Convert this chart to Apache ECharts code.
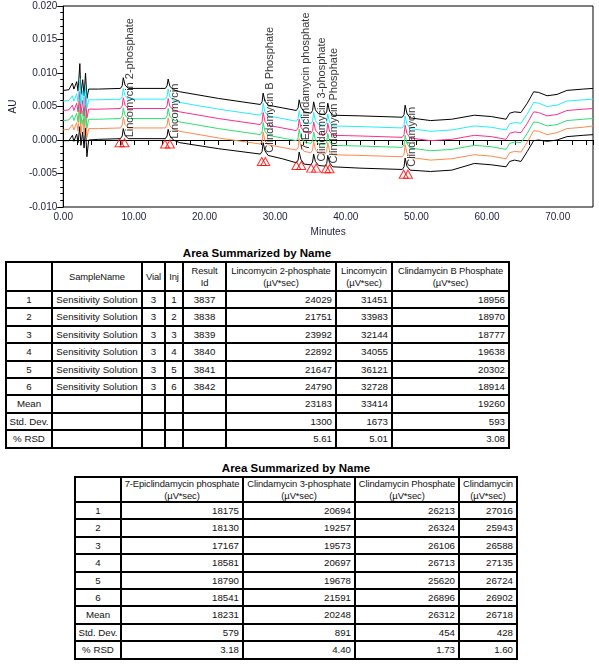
<!DOCTYPE html>
<html><head><meta charset="utf-8">
<script src="https://cdn.jsdelivr.net/npm/echarts@6/dist/echarts.min.js"></script>
<style>
html,body{margin:0;padding:0;background:#fff;}
#page{position:relative;width:599px;height:665px;overflow:hidden;font-family:'Liberation Sans',Arial,sans-serif;}
#chart{position:absolute;left:0;top:0;width:599px;height:245px;}
.cell{position:absolute;box-sizing:border-box;border:1px solid #000;display:flex;align-items:center;padding:0 3px;font-size:9.7px;line-height:12px;color:#111;white-space:pre;overflow:hidden;}
.cell.hd{padding:0;font-size:9.4px;letter-spacing:-0.1px;}
.frame{position:absolute;box-sizing:border-box;border:1px solid #000;}
.title{position:absolute;width:300px;text-align:center;font-weight:bold;font-size:11.5px;color:#000;}
</style></head>
<body><div id="page"><div id="chart"></div></div>
<script>
// ---------- chromatogram data (minutes, AU) ----------
const timeMin = [0, 0.8, 1.3, 1.5, 1.9, 2.1, 2.35, 2.5, 2.75, 2.95, 3.15, 3.35, 3.6, 5, 8.1, 8.35, 8.5, 8.75, 9.2, 12, 14.45, 14.7, 14.85, 15.1, 15.6, 16.5, 22, 27.9, 28.15, 28.3, 28.55, 29.0, 31, 33.0, 33.25, 33.4, 33.65, 34.1, 35.05, 35.3, 35.45, 35.7, 36.15, 37.05, 37.3, 37.45, 37.7, 38.15, 42, 48.0, 48.25, 48.4, 48.65, 49.1, 52, 55, 58.2, 60.6, 62.7, 63.2, 63.9, 64.8, 65.7, 66.6, 67.3, 68.5, 69.9, 71.3, 73.6, 75];

const traceTopBlack = [0.0074, 0.0075, 0.0085, 0.0076, 0.0087, 0.0073, 0.0114, 0.0068, 0.0090, 0.0066, 0.0100, 0.0062, 0.0076, 0.0076, 0.0077, 0.0081, 0.0093, 0.0082, 0.0077, 0.0077, 0.0077, 0.0081, 0.0091, 0.0080, 0.0075, 0.0072, 0.0062, 0.0053, 0.0057, 0.0070, 0.0058, 0.0052, 0.0048, 0.0044, 0.0048, 0.0060, 0.0049, 0.0042, 0.0040, 0.0044, 0.0057, 0.0045, 0.0039, 0.0038, 0.0042, 0.0055, 0.0043, 0.0037, 0.0036, 0.0034, 0.0038, 0.0052, 0.0040, 0.0033, 0.0029, 0.0031, 0.0037, 0.0035, 0.0031, 0.0040, 0.0042, 0.0041, 0.0055, 0.0072, 0.0071, 0.0066, 0.0068, 0.0074, 0.0076, 0.0077];

const traceCyan = [0.0058, 0.0059, 0.0066, 0.0058, 0.0069, 0.0057, 0.0092, 0.0054, 0.0074, 0.0050, 0.0081, 0.0048, 0.0060, 0.0060, 0.0061, 0.0065, 0.0077, 0.0066, 0.0061, 0.0061, 0.0061, 0.0065, 0.0076, 0.0064, 0.0059, 0.0056, 0.0046, 0.0037, 0.0041, 0.0055, 0.0042, 0.0036, 0.0032, 0.0028, 0.0032, 0.0044, 0.0033, 0.0026, 0.0024, 0.0028, 0.0041, 0.0029, 0.0023, 0.0022, 0.0026, 0.0039, 0.0027, 0.0021, 0.0020, 0.0018, 0.0022, 0.0036, 0.0024, 0.0017, 0.0013, 0.0015, 0.0021, 0.0019, 0.0015, 0.0024, 0.0026, 0.0025, 0.0039, 0.0056, 0.0055, 0.0050, 0.0052, 0.0058, 0.0060, 0.0061];

const traceMagenta = [0.0044, 0.0045, 0.0052, 0.0044, 0.0055, 0.0042, 0.0072, 0.0039, 0.0059, 0.0036, 0.0066, 0.0033, 0.0046, 0.0046, 0.0047, 0.0051, 0.0063, 0.0052, 0.0047, 0.0047, 0.0047, 0.0051, 0.0062, 0.0050, 0.0045, 0.0042, 0.0032, 0.0023, 0.0027, 0.0041, 0.0028, 0.0022, 0.0018, 0.0014, 0.0018, 0.0031, 0.0019, 0.0012, 0.0010, 0.0014, 0.0027, 0.0015, 0.0009, 0.0008, 0.0012, 0.0025, 0.0013, 0.0007, 0.0006, 0.0004, 0.0008, 0.0022, 0.0010, 0.0003, -0.0001, 0.0001, 0.0007, 0.0005, 0.0001, 0.0010, 0.0012, 0.0011, 0.0025, 0.0042, 0.0041, 0.0036, 0.0038, 0.0044, 0.0046, 0.0047];

const traceGreen = [0.0029, 0.0030, 0.0037, 0.0029, 0.0040, 0.0027, 0.0058, 0.0024, 0.0044, 0.0021, 0.0052, 0.0018, 0.0031, 0.0031, 0.0032, 0.0036, 0.0048, 0.0037, 0.0032, 0.0032, 0.0032, 0.0036, 0.0047, 0.0035, 0.0030, 0.0027, 0.0017, 0.0008, 0.0012, 0.0026, 0.0013, 0.0007, 0.0003, -0.0001, 0.0003, 0.0016, 0.0004, -0.0003, -0.0005, -0.0001, 0.0012, 0.0000, -0.0006, -0.0007, -0.0003, 0.0010, -0.0002, -0.0008, -0.0009, -0.0011, -0.0007, 0.0007, -0.0005, -0.0012, -0.0016, -0.0014, -0.0008, -0.0010, -0.0014, -0.0005, -0.0003, -0.0004, 0.0010, 0.0027, 0.0026, 0.0021, 0.0023, 0.0029, 0.0031, 0.0032];

const traceOrange = [0.0015, 0.0016, 0.0023, 0.0015, 0.0026, 0.0013, 0.0045, 0.0010, 0.0030, 0.0007, 0.0037, 0.0004, 0.0017, 0.0017, 0.0018, 0.0022, 0.0034, 0.0023, 0.0018, 0.0018, 0.0018, 0.0022, 0.0033, 0.0021, 0.0016, 0.0013, 0.0003, -0.0006, -0.0002, 0.0012, -0.0001, -0.0007, -0.0011, -0.0015, -0.0011, 0.0002, -0.0010, -0.0017, -0.0019, -0.0015, -0.0002, -0.0014, -0.0020, -0.0021, -0.0017, -0.0004, -0.0016, -0.0022, -0.0023, -0.0025, -0.0021, -0.0007, -0.0019, -0.0026, -0.0030, -0.0028, -0.0022, -0.0024, -0.0028, -0.0019, -0.0017, -0.0018, -0.0003, 0.0014, 0.0013, 0.0008, 0.0011, 0.0017, 0.0019, 0.0021];

const traceBottomBlack = [-0.0001, -0.0001, 0.0007, -0.0002, 0.0009, -0.0004, 0.0020, -0.0008, 0.0012, -0.0012, 0.0018, -0.0025, 0.0000, 0.0001, 0.0002, 0.0006, 0.0017, 0.0007, 0.0002, 0.0002, 0.0002, 0.0006, 0.0016, 0.0006, 0.0000, -0.0004, -0.0013, -0.0021, -0.0017, -0.0004, -0.0016, -0.0023, -0.0028, -0.0034, -0.0030, -0.0018, -0.0029, -0.0036, -0.0037, -0.0033, -0.0021, -0.0032, -0.0038, -0.0039, -0.0035, -0.0023, -0.0034, -0.0040, -0.0042, -0.0044, -0.0040, -0.0027, -0.0039, -0.0045, -0.0047, -0.0045, -0.0035, -0.0037, -0.0040, -0.0032, -0.0030, -0.0032, -0.0017, -0.0001, 0.0000, -0.0002, 0.0000, 0.0005, 0.0007, 0.0008];

const peakNames = ['Lincomycin 2-phosphate', 'Lincomycin', 'Clindamycin B Phosphate', '7-Epiclindamycin phosphate', 'Clindamycin 3-phosphate', 'Clindamycin Phosphate', 'Clindamycin'];
const peakLabelTime = [9.4, 15.8, 29.2, 34.3, 36.6, 38.3, 49.4];
const peakLabelAU = [0.0004, 0.0002, -0.0019, -0.0015, -0.0032, -0.0035, -0.0040];

const markerTime = [7.97, 8.67, 14.4, 15.1, 28.1, 28.6, 33.0, 33.7, 35.1, 35.8, 37.2, 37.7, 48.2, 48.8];
const markerAU = [-0.0004, -0.0004, -0.0006, -0.0006, -0.0032, -0.0032, -0.0038, -0.0038, -0.0042, -0.0042, -0.0043, -0.0043, -0.0051, -0.0051];

// ---------- table data ----------
const sampleNo = ['1', '2', '3', '4', '5', '6'];
const sampleName = ['Sensitivity Solution', 'Sensitivity Solution', 'Sensitivity Solution', 'Sensitivity Solution', 'Sensitivity Solution', 'Sensitivity Solution'];
const vial = ['3', '3', '3', '3', '3', '3'];
const inj = ['1', '2', '3', '4', '5', '6'];
const resultId = ['3837', '3838', '3839', '3840', '3841', '3842'];
const statNames = ['Mean', 'Std. Dev.', '% RSD'];

const areaLinco2P = ['24029', '21751', '23992', '22892', '21647', '24790'];
const statsLinco2P = ['23183', '1300', '5.61'];
const areaLinco = ['31451', '33983', '32144', '34055', '36121', '32728'];
const statsLinco = ['33414', '1673', '5.01'];
const areaClindaB = ['18956', '18970', '18777', '19638', '20302', '18914'];
const statsClindaB = ['19260', '593', '3.08'];

const areaEpi = ['18175', '18130', '17167', '18581', '18790', '18541'];
const statsEpi = ['18231', '579', '3.18'];
const areaClinda3P = ['20694', '19257', '19573', '20697', '19678', '21591'];
const statsClinda3P = ['20248', '891', '4.40'];
const areaClindaP = ['26213', '26324', '26106', '26713', '25620', '26896'];
const statsClindaP = ['26312', '454', '1.73'];
const areaClinda = ['27016', '25943', '26588', '27135', '26724', '26902'];
const statsClinda = ['26718', '428', '1.60'];

const tableTitle = 'Area Summarized by Name';
const header1 = ['', 'SampleName', 'Vial', 'Inj', 'Result\nId', 'Lincomycin 2-phosphate\n(µV*sec)', 'Lincomycin\n(µV*sec)', 'Clindamycin B Phosphate\n(µV*sec)'];
const header2 = ['', '7-Epiclindamycin phosphate\n(µV*sec)', 'Clindamycin 3-phosphate\n(µV*sec)', 'Clindamycin Phosphate\n(µV*sec)', 'Clindamycin\n(µV*sec)'];

// ---------- chart ----------
const FONT = "'Liberation Sans', Arial, sans-serif";
const AXC = '#1c1c3c';
const toPairs = vals => timeMin.map((t, i) => [t, vals[i]]);
const traces = [
  { d: traceTopBlack, c: '#000000' },
  { d: traceBottomBlack, c: '#000000' },
  { d: traceOrange, c: '#ff8a4c' },
  { d: traceGreen, c: '#2ee06e' },
  { d: traceMagenta, c: '#ff2d8a' },
  { d: traceCyan, c: '#22eeff' }
];
const series = traces.map(tr => ({
  type: 'line', data: toPairs(tr.d), showSymbol: false, symbol: 'none', smooth: false,
  lineStyle: { width: 1, color: tr.c }, itemStyle: { color: tr.c }, silent: true, z: 2
}));
series.push({
  type: 'scatter', z: 5, silent: true,
  data: markerTime.map((t, i) => [t, markerAU[i]]),
  symbol: 'triangle', symbolSize: [9, 8],
  itemStyle: { color: 'rgba(0,0,0,0)', borderColor: '#ff0000', borderWidth: 1 }
});
series.push({
  type: 'scatter', z: 6, silent: true,
  data: peakNames.map((n, i) => ({ name: n, value: [peakLabelTime[i], peakLabelAU[i]] })),
  symbol: 'circle', symbolSize: 1, itemStyle: { color: 'rgba(0,0,0,0)' },
  label: { show: true, formatter: '{b}', position: 'inside', rotate: 90, align: 'left', verticalAlign: 'middle',
           color: '#000', fontSize: 11, fontFamily: FONT }
});

const chart = echarts.init(document.getElementById('chart'), null, { renderer: 'canvas' });
chart.setOption({
  animation: false,
  backgroundColor: '#fff',
  grid: { left: 57, top: 6, width: 536, height: 201, show: true, borderColor: '#000', borderWidth: 1, backgroundColor: 'transparent' },
  xAxis: {
    type: 'value', min: 0, max: 75, interval: 2,
    name: 'Minutes', nameLocation: 'middle', nameGap: 18,
    nameTextStyle: { fontSize: 10, color: AXC, fontFamily: FONT },
    axisLine: { lineStyle: { color: '#000', width: 1 } },
    axisTick: { length: 5, lineStyle: { color: '#000' } },
    axisLabel: { interval: 0, margin: 5, fontSize: 10, color: AXC, fontFamily: FONT,
                 formatter: v => (Math.abs(v % 10) < 1e-9 ? v.toFixed(2) : '') },
    splitLine: { show: false }
  },
  yAxis: {
    type: 'value', min: -0.01, max: 0.02, interval: 0.005,
    name: 'AU', nameLocation: 'middle', nameGap: 38,
    nameTextStyle: { fontSize: 10, color: AXC, fontFamily: FONT },
    axisLine: { show: true, lineStyle: { color: '#000', width: 1 } },
    axisTick: { show: true, length: 6, lineStyle: { color: '#000' } },
    minorTick: { show: true, splitNumber: 5, length: 3, lineStyle: { color: '#000' } },
    axisLabel: { margin: 6, fontSize: 10, color: AXC, fontFamily: FONT, formatter: v => v.toFixed(3) },
    splitLine: { show: false }
  },
  series: series
});

// ---------- tables ----------
const page = document.getElementById('page');
function addTitle(text, cx, top) {
  const d = document.createElement('div');
  d.className = 'title'; d.textContent = text;
  d.style.left = (cx - 150) + 'px'; d.style.top = top + 'px';
  page.appendChild(d);
}
function buildTable(cols, top, headerH, rowH, header, rows, aligns) {
  const nRows = rows.length;
  const bottom = Math.round(top + headerH + nRows * rowH);
  const fr = document.createElement('div');
  fr.className = 'frame';
  fr.style.left = (cols[0] - 1) + 'px'; fr.style.top = (top - 1) + 'px';
  fr.style.width = (cols[cols.length - 1] - cols[0] + 2) + 'px';
  fr.style.height = (bottom - top + 2) + 'px';
  page.appendChild(fr);
  const cell = (x0, x1, y0, y1, txt, al, hd) => {
    const c = document.createElement('div');
    c.className = hd ? 'cell hd' : 'cell';
    c.style.left = x0 + 'px'; c.style.top = y0 + 'px';
    c.style.width = (x1 - x0) + 'px'; c.style.height = (y1 - y0) + 'px';
    c.style.justifyContent = al === 'right' ? 'flex-end' : 'center';
    c.style.textAlign = al === 'right' ? 'right' : 'center';
    c.textContent = txt;
    page.appendChild(c);
  };
  header.forEach((h, i) => cell(cols[i], cols[i + 1], top, top + headerH, h, 'center', true));
  rows.forEach((r, j) => {
    const y0 = Math.round(top + headerH + j * rowH), y1 = Math.round(top + headerH + (j + 1) * rowH);
    r.forEach((txt, i) => cell(cols[i], cols[i + 1], y0, y1, txt, aligns[i], false));
  });
}

const rows1 = [];
for (let i = 0; i < sampleNo.length; i++) {
  rows1.push([sampleNo[i], sampleName[i], vial[i], inj[i], resultId[i], areaLinco2P[i], areaLinco[i], areaClindaB[i]]);
}
for (let k = 0; k < statNames.length; k++) {
  rows1.push([statNames[k], '', '', '', '', statsLinco2P[k], statsLinco[k], statsClindaB[k]]);
}
const rows2 = [];
for (let i = 0; i < sampleNo.length; i++) {
  rows2.push([sampleNo[i], areaEpi[i], areaClinda3P[i], areaClindaP[i], areaClinda[i]]);
}
for (let k = 0; k < statNames.length; k++) {
  rows2.push([statNames[k], statsEpi[k], statsClinda3P[k], statsClindaP[k], statsClinda[k]]);
}

addTitle(tableTitle, 257, 247);
buildTable([6, 52, 142, 165, 183, 226, 336, 392, 509], 262, 29, 17.4, header1, rows1,
  ['center', 'center', 'center', 'center', 'center', 'right', 'right', 'right']);
addTitle(tableTitle, 296, 462);
buildTable([75, 121, 243, 355, 459, 517], 477, 25, 17.4, header2, rows2,
  ['center', 'right', 'right', 'right', 'right']);
</script>
</body></html>
